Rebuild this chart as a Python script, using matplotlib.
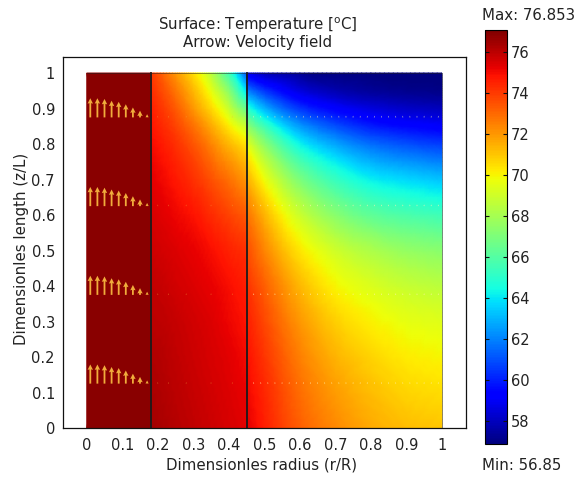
import numpy as np
import matplotlib
matplotlib.use("Agg")
import matplotlib.pyplot as plt
import matplotlib.tri as mtri
from matplotlib.colors import Normalize

# grid nodes (dimensionless radius r/R and length z/L)
z_nodes = [0.0, 0.1, 0.2, 0.3, 0.4, 0.5, 0.6, 0.7, 0.8, 0.85, 0.9, 0.95, 1.0]
r_inner = [0.0, 0.18]
r_mid = [0.18, 0.25, 0.3, 0.35, 0.4, 0.45]
r_outer = [0.45, 0.5, 0.6, 0.7, 0.8, 0.9, 1.0]

t_max = 76.853
t_min = 56.85

# temperature, one row per z node
temp_mid = [
    [76.4, 76.1, 75.9, 75.7, 75.5, 75.3],
    [76.3, 76.0, 75.8, 75.6, 75.4, 75.2],
    [76.2, 75.9, 75.7, 75.5, 75.3, 75.0],
    [76.0, 75.8, 75.6, 75.4, 75.1, 74.8],
    [75.9, 75.6, 75.4, 75.2, 74.9, 74.6],
    [75.7, 75.4, 75.2, 74.9, 74.5, 74.2],
    [75.5, 75.1, 74.8, 74.3, 73.8, 73.3],
    [75.3, 74.7, 74.2, 73.5, 72.8, 72.0],
    [75.0, 74.2, 73.4, 72.4, 71.3, 70.3],
    [74.8, 73.8, 72.8, 71.6, 70.2, 68.8],
    [74.6, 73.3, 72.0, 70.6, 68.8, 66.5],
    [74.3, 72.7, 71.3, 69.6, 67.3, 63.8],
    [74.0, 72.0, 70.5, 68.5, 65.5, 61.0],
]
temp_outer = [
    [75.3, 74.6, 73.2, 72.3, 71.6, 71.2, 71.0],
    [75.1, 74.4, 72.9, 71.9, 71.2, 70.7, 70.5],
    [74.9, 74.1, 72.5, 71.4, 70.7, 70.2, 70.0],
    [74.6, 73.7, 72.0, 70.8, 70.1, 69.6, 69.4],
    [74.2, 73.2, 71.3, 70.0, 69.3, 68.8, 68.5],
    [73.6, 72.4, 70.3, 69.0, 68.2, 67.6, 67.3],
    [72.8, 71.4, 68.9, 67.3, 66.3, 65.8, 65.5],
    [71.5, 69.8, 67.0, 65.3, 64.2, 63.7, 63.3],
    [69.5, 67.4, 64.3, 62.7, 61.6, 61.0, 60.6],
    [67.5, 65.5, 62.5, 61.0, 60.0, 59.5, 59.2],
    [65.0, 63.0, 60.5, 59.3, 58.6, 58.2, 58.0],
    [62.0, 60.5, 58.6, 57.8, 57.4, 57.2, 57.1],
    [59.0, 58.0, 57.3, 57.0, 56.9, 56.85, 56.85],
]

# velocity arrows
arrow_rows = [0.125, 0.375, 0.625, 0.875]
arrow_r = [0.01, 0.03, 0.05, 0.07, 0.09, 0.11, 0.13, 0.15, 0.17]
arrow_len = [0.054, 0.054, 0.052, 0.047, 0.044, 0.037, 0.028, 0.019, 0.009]
dot_r_mid = [0.2, 0.23, 0.28, 0.35, 0.41]
dot_r_outer = [0.47, 0.49, 0.51, 0.53, 0.55, 0.57, 0.59, 0.61, 0.63, 0.65,
               0.67, 0.69, 0.71, 0.73, 0.75, 0.77, 0.79, 0.81, 0.83, 0.85,
               0.87, 0.89, 0.91, 0.93, 0.95, 0.97, 0.99]
dot_len = 0.005

x_ticks = [0, 0.1, 0.2, 0.3, 0.4, 0.5, 0.6, 0.7, 0.8, 0.9, 1]
y_ticks = [0, 0.1, 0.2, 0.3, 0.4, 0.5, 0.6, 0.7, 0.8, 0.9, 1]
cbar_ticks = [58, 60, 62, 64, 66, 68, 70, 72, 74, 76]

plt.rcParams['font.family'] = ['DejaVu Sans']
txt_color = '#222222'
fs = 10.8
fs_tick = 10.5


def draw_region(ax, r_vals, z_vals, temps, cmap, norm):
    R, Z = np.meshgrid(r_vals, z_vals)
    tri = mtri.Triangulation(R.ravel(), Z.ravel())
    T = np.array(temps, dtype=float).ravel()
    refiner = mtri.UniformTriRefiner(tri)
    interp = mtri.CubicTriInterpolator(tri, T, kind='geom')
    tri_f, T_f = refiner.refine_field(T, triinterpolator=interp, subdiv=3)
    return ax.tripcolor(tri_f, T_f, cmap=cmap, norm=norm, shading='gouraud')


fig = plt.figure(figsize=(5.81, 4.8), dpi=100)
ax = fig.add_axes([63.3 / 581, 1 - 428 / 480, (466 - 63.3) / 581, (428 - 56.7) / 480])
norm = Normalize(vmin=56.9, vmax=77.05)
cmap = plt.get_cmap('jet')

Ri, Zi = np.meshgrid(r_inner, [0.0, 1.0])
ax.pcolormesh(Ri, Zi, np.full(Ri.shape, t_max), cmap=cmap, norm=norm, shading='gouraud')
mesh = draw_region(ax, r_mid, z_nodes, temp_mid, cmap, norm)
draw_region(ax, r_outer, z_nodes, temp_outer, cmap, norm)

# subdomain boundaries
for rb in [0.18, 0.45]:
    ax.plot([rb, rb], [0, 1], color='#1a1a1a', lw=1.3)
ax.plot([0, 1, 1], [1, 1, 0], color='#202020', lw=0.6, alpha=0.6)

# arrows
for z in arrow_rows:
    ax.quiver(arrow_r, [z] * len(arrow_r), [0] * len(arrow_r), arrow_len,
              angles='xy', scale_units='xy', scale=1, color='#f0ac3c',
              width=0.0045, headwidth=3, headlength=3, headaxislength=2.7)
    ax.quiver(dot_r_mid, [z] * len(dot_r_mid), [0] * len(dot_r_mid),
              [dot_len] * len(dot_r_mid), angles='xy', scale_units='xy', scale=1,
              color='#f5b040', alpha=0.5, width=0.0035)
    ax.quiver(dot_r_outer, [z] * len(dot_r_outer), [0] * len(dot_r_outer),
              [dot_len] * len(dot_r_outer), angles='xy', scale_units='xy', scale=1,
              color='#fff2b0', alpha=0.85, width=0.0035)

ax.set_xlim(-0.066, 1.068)
ax.set_ylim(0, 1.046)
ax.set_xticks(x_ticks)
ax.set_xticklabels([f"{v:g}" for v in x_ticks])
ax.set_yticks(y_ticks)
ax.set_yticklabels([f"{v:g}" for v in y_ticks])
ax.tick_params(length=0, colors=txt_color, labelsize=fs_tick)
ax.tick_params(axis='x', pad=7)
ax.tick_params(axis='y', pad=6)
for sp in ax.spines.values():
    sp.set_linewidth(0.9)
    sp.set_color('#111111')

fig.text(258 / 581, 1 - 25 / 480, r"Surface: Temperature [$^\mathrm{o}$C]",
         ha='center', va='center', color=txt_color, fontsize=fs)
fig.text(258 / 581, 1 - 43 / 480, "Arrow: Velocity field",
         ha='center', va='center', color=txt_color, fontsize=fs)
fig.text(262 / 581, 1 - 465 / 480, "Dimensionles radius (r/R)",
         ha='center', va='center', color=txt_color, fontsize=fs)
fig.text(22 / 581, 1 - 249 / 480, "Dimensionles length (z/L)", rotation=90,
         ha='center', va='center', color=txt_color, fontsize=fs)

# colorbar
cax = fig.add_axes([485 / 581, 1 - 444 / 480, 22 / 581, (444 - 30) / 480])
cb = fig.colorbar(mesh, cax=cax)
cb.set_ticks(cbar_ticks)
cb.set_ticklabels([str(v) for v in cbar_ticks])
cax.tick_params(direction='in', left=True, right=True, length=3, width=0.8,
                labelsize=fs_tick, pad=3, colors='#111111', labelcolor=txt_color)
cb.outline.set_linewidth(0.8)
fig.text(482 / 581, 1 - 15 / 480, f"Max: {t_max:.3f}", ha='left', va='center',
         color=txt_color, fontsize=fs)
fig.text(482 / 581, 1 - 465 / 480, f"Min: {t_min:.2f}", ha='left', va='center',
         color=txt_color, fontsize=fs)

fig.savefig("out.png", dpi=100)
